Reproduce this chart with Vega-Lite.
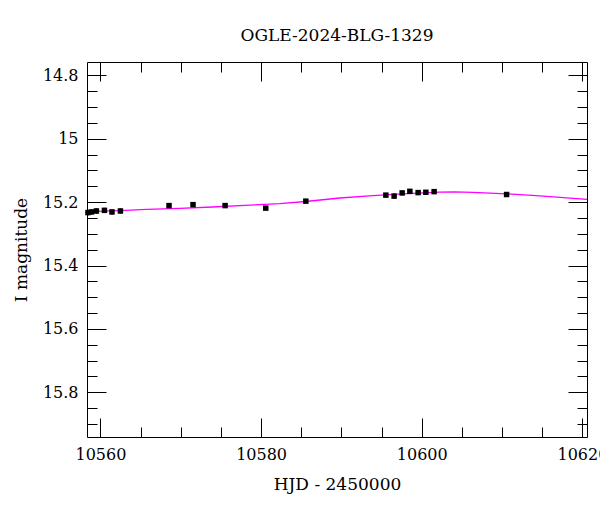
{
  "$schema": "https://vega.github.io/schema/vega-lite/v6.json",
  "width": 500,
  "height": 375,
  "autosize": {"type": "none"},
  "padding": {"left": 87, "top": 62, "right": 13, "bottom": 75},
  "background": "white",
  "title": {"text": "OGLE-2024-BLG-1329", "font": "DejaVu Serif", "fontSize": 17, "fontWeight": "normal", "color": "black", "anchor": "middle", "baseline": "alphabetic", "offset": 4},
  "config": {
    "view": {"stroke": "black", "strokeWidth": 1},
    "axis": {"grid": false, "domain": false, "labelFont": "DejaVu Serif", "titleFont": "DejaVu Serif", "labelColor": "black", "titleColor": "black", "tickColor": "black", "tickWidth": 1, "labelFontSize": 16, "titleFontSize": 17, "titleFontWeight": "normal"}
  },
  "datasets": {
    "obs": [
      {"t": 10558.45, "mag": 15.233, "err": 0.009},
      {"t": 10558.9, "mag": 15.231, "err": 0.008},
      {"t": 10559.5, "mag": 15.228, "err": 0.009},
      {"t": 10560.5, "mag": 15.226, "err": 0.008},
      {"t": 10561.44, "mag": 15.231, "err": 0.008},
      {"t": 10562.49, "mag": 15.228, "err": 0.008},
      {"t": 10568.54, "mag": 15.211, "err": 0.005},
      {"t": 10571.53, "mag": 15.208, "err": 0.005},
      {"t": 10575.52, "mag": 15.211, "err": 0.004},
      {"t": 10580.58, "mag": 15.219, "err": 0.005},
      {"t": 10585.57, "mag": 15.197, "err": 0.005},
      {"t": 10595.53, "mag": 15.178, "err": 0.006},
      {"t": 10596.56, "mag": 15.181, "err": 0.008},
      {"t": 10597.56, "mag": 15.171, "err": 0.007},
      {"t": 10598.52, "mag": 15.166, "err": 0.006},
      {"t": 10599.55, "mag": 15.17, "err": 0.004},
      {"t": 10600.51, "mag": 15.169, "err": 0.004},
      {"t": 10601.54, "mag": 15.167, "err": 0.005},
      {"t": 10610.56, "mag": 15.176, "err": 0.004}
    ],
    "model": [
      {"t": 10558.33, "mag": 15.230},
      {"t": 10562.4, "mag": 15.2268},
      {"t": 10565.76, "mag": 15.2227},
      {"t": 10569.87, "mag": 15.2196},
      {"t": 10573.98, "mag": 15.2155},
      {"t": 10578.59, "mag": 15.2095},
      {"t": 10582.32, "mag": 15.2047},
      {"t": 10585.56, "mag": 15.1981},
      {"t": 10589.8, "mag": 15.1871},
      {"t": 10593.91, "mag": 15.1795},
      {"t": 10598.14, "mag": 15.1732},
      {"t": 10602.25, "mag": 15.1685},
      {"t": 10604.12, "mag": 15.1675},
      {"t": 10606.36, "mag": 15.1691},
      {"t": 10610.59, "mag": 15.1738},
      {"t": 10614.7, "mag": 15.1801},
      {"t": 10620.57, "mag": 15.1912}
    ]
  },
  "resolve": {"axis": {"x": "independent", "y": "independent"}},
  "layer": [
    {
      "data": {"name": "model"},
      "mark": {"type": "line", "color": "#ff00ff", "strokeWidth": 1.3, "clip": true},
      "encoding": {
        "x": {"field": "t", "type": "quantitative", "scale": {"domain": [10558.33, 10620.57], "nice": false, "zero": false},
              "axis": {"orient": "bottom", "values": [10560, 10580, 10600, 10620], "format": "d", "ticks": false, "labelPadding": 9, "title": "HJD - 2450000", "titlePadding": 14, "labelFlush": false}},
        "y": {"field": "mag", "type": "quantitative", "scale": {"domain": [14.758, 15.941], "reverse": true, "nice": false, "zero": false},
              "axis": {"orient": "left", "values": [14.8, 15, 15.2, 15.4, 15.6, 15.8], "format": "~g", "ticks": false, "labelPadding": 9, "title": "I magnitude", "titlePadding": 12, "labelFlush": false}}
      }
    },
    {
      "data": {"name": "obs"},
      "transform": [{"calculate": "datum.mag - datum.err", "as": "lo"}, {"calculate": "datum.mag + datum.err", "as": "hi"}],
      "mark": {"type": "rule", "color": "black", "strokeWidth": 1.5},
      "encoding": {
        "x": {"field": "t", "type": "quantitative", "axis": {"orient": "bottom", "values": [10560, 10580, 10600, 10620], "labels": false, "tickSize": -19, "title": null}},
        "y": {"field": "lo", "type": "quantitative", "axis": {"orient": "left", "values": [14.8, 15, 15.2, 15.4, 15.6, 15.8], "labels": false, "tickSize": -19, "title": null}},
        "y2": {"field": "hi"}
      }
    },
    {
      "data": {"name": "obs"},
      "mark": {"type": "square", "color": "black", "filled": true, "opacity": 1, "size": 30},
      "encoding": {
        "x": {"field": "t", "type": "quantitative", "axis": {"orient": "bottom", "values": [10565, 10570, 10575, 10585, 10590, 10595, 10605, 10610, 10615], "labels": false, "tickSize": -10, "title": null}},
        "y": {"field": "mag", "type": "quantitative", "axis": {"orient": "left", "values": [14.85, 14.9, 14.95, 15.05, 15.1, 15.15, 15.25, 15.3, 15.35, 15.45, 15.5, 15.55, 15.65, 15.7, 15.75, 15.85, 15.9], "labels": false, "tickSize": -10, "title": null}}
      }
    },
    {
      "data": {"name": "model"},
      "mark": {"type": "point", "opacity": 0},
      "encoding": {
        "x": {"field": "t", "type": "quantitative", "axis": {"orient": "top", "values": [10560, 10580, 10600, 10620], "labels": false, "tickSize": -19, "title": null}},
        "y": {"field": "mag", "type": "quantitative", "axis": {"orient": "right", "values": [14.8, 15, 15.2, 15.4, 15.6, 15.8], "labels": false, "tickSize": -19, "title": null}}
      }
    },
    {
      "data": {"name": "model"},
      "mark": {"type": "point", "opacity": 0},
      "encoding": {
        "x": {"field": "t", "type": "quantitative", "axis": {"orient": "top", "values": [10565, 10570, 10575, 10585, 10590, 10595, 10605, 10610, 10615], "labels": false, "tickSize": -10, "title": null}},
        "y": {"field": "mag", "type": "quantitative", "axis": {"orient": "right", "values": [14.85, 14.9, 14.95, 15.05, 15.1, 15.15, 15.25, 15.3, 15.35, 15.45, 15.5, 15.55, 15.65, 15.7, 15.75, 15.85, 15.9], "labels": false, "tickSize": -10, "title": null}}
      }
    }
  ]
}
